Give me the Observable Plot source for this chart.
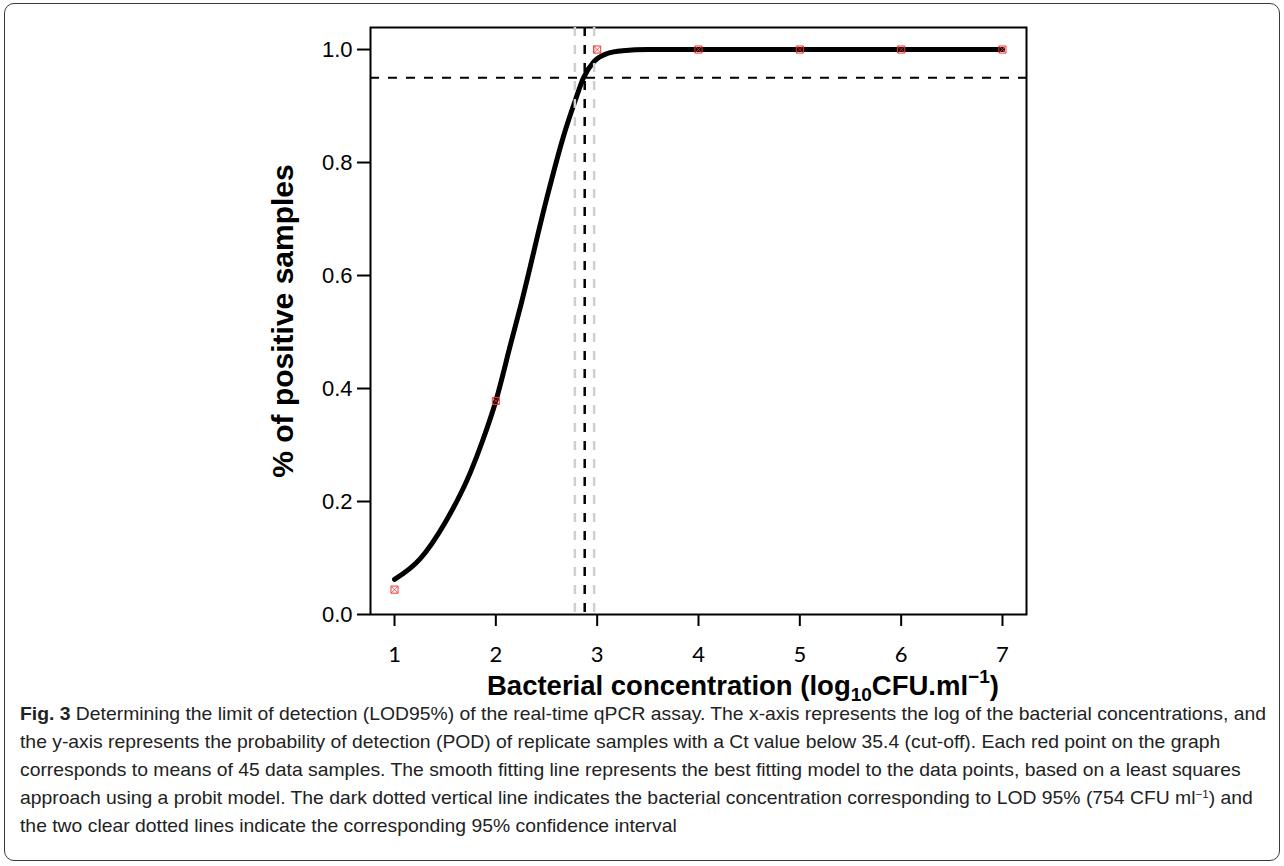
<!DOCTYPE html>
<html><head><meta charset="utf-8">
<script src="https://cdn.jsdelivr.net/npm/d3@7"></script>
<script src="https://cdn.jsdelivr.net/npm/@observablehq/plot@0.6"></script>
<style>
body{margin:0;background:#fff;width:1284px;height:866px;position:relative;overflow:hidden;font-family:"Liberation Sans",Arial,sans-serif}
#border{position:absolute;left:4px;top:3px;width:1276px;height:858px;border:1.4px solid #3a3a3a;border-radius:10px;box-sizing:border-box}
#chart{position:absolute;left:0;top:0}
#caption{position:absolute;left:20px;top:700px;font-family:"Liberation Sans",Arial,sans-serif;font-size:18.5px;line-height:28px;color:#222;white-space:nowrap}
#caption .ln{transform-origin:0 50%;width:max-content}
#caption b{font-weight:bold}
#caption sup{font-size:11px;line-height:0;vertical-align:6px}
</style></head>
<body>
<div id="border"></div>
<div id="chart"></div>
<div id="caption">
<div class="ln"><b>Fig. 3</b> Determining the limit of detection (LOD95%) of the real-time qPCR assay. The x-axis represents the log of the bacterial concentrations, and</div>
<div class="ln">the y-axis represents the probability of detection (POD) of replicate samples with a Ct value below 35.4 (cut-off). Each red point on the graph</div>
<div class="ln">corresponds to means of 45 data samples. The smooth fitting line represents the best fitting model to the data points, based on a least squares</div>
<div class="ln">approach using a probit model. The dark dotted vertical line indicates the bacterial concentration corresponding to LOD 95% (754 CFU ml<sup>−1</sup>) and</div>
<div class="ln">the two clear dotted lines indicate the corresponding 95% confidence interval</div>
</div>
<script>
// observed detection rates
const pointX = [1, 2, 3, 4, 5, 6, 7];
const pointY = [0.044, 0.378, 1.0, 1.0, 1.0, 1.0, 1.0];
// fitted probit curve
const fitX = [1.0, 1.25, 1.5, 1.75, 1.87, 2.0, 2.145, 2.25, 2.5, 2.67, 2.78, 2.865, 2.97, 3.1, 3.25, 3.5, 4, 5, 6, 7];
const fitY = [0.062, 0.098, 0.163, 0.252, 0.308, 0.378, 0.478, 0.55, 0.735, 0.848, 0.908, 0.95, 0.979, 0.993, 0.998, 1.0, 1.0, 1.0, 1.0, 1.0];
// LOD95 and its confidence interval (log10 CFU/ml)
const lodX = [2.877];
const ciX = [2.78, 2.97];
const cutoffY = [0.95];
const xTicks = [1, 2, 3, 4, 5, 6, 7];
const yTicks = [0, 0.2, 0.4, 0.6, 0.8, 1.0];
const yTitle = "% of positive samples";

const points = pointX.map((x, i) => ({x, y: pointY[i]}));
const fit = fitX.map((x, i) => ({x, y: fitY[i]}));

const W = 1284, H = 712;
const chart = Plot.plot({
  width: W, height: H,
  marginLeft: 370, marginRight: 258, marginTop: 27, marginBottom: 98,
  style: {background: "transparent", color: "#000"},
  x: {domain: [0.763, 7.237]},
  y: {domain: [0, 1.039]},
  marks: [
    Plot.frame({stroke: "#000", strokeWidth: 2}),
    Plot.axisX({ticks: xTicks, tickSize: 12, tickPadding: 20, strokeWidth: 2, fontSize: 22,
      fontFamily: "Lato,'Liberation Sans',sans-serif", label: null, tickFormat: d3.format("d")}),
    Plot.axisY({ticks: yTicks, tickSize: 13, tickPadding: 5, strokeWidth: 2, fontSize: 22,
      fontFamily: "'Liberation Sans',Arial,sans-serif", label: null, tickFormat: d3.format(".1f")}),
    Plot.line(fit, {x: "x", y: "y", stroke: "#000", strokeWidth: 5, curve: "monotone-x"}),
    Plot.ruleX(ciX, {stroke: "#cfcfcf", strokeWidth: 2.5, strokeDasharray: "9,9"}),
    Plot.ruleX(lodX, {stroke: "#000", strokeWidth: 2.5, strokeDasharray: "9,9"}),
    Plot.ruleY(cutoffY, {stroke: "#000", strokeWidth: 2, strokeDasharray: "9,9"}),
    Plot.dot(points, {x: "x", y: "y", symbol: "square", r: 4, stroke: "#ff3030", strokeWidth: 1, fill: "none"}),
    Plot.dot(points, {x: "x", y: "y", symbol: "times", r: 3, stroke: "#ff3030", strokeWidth: 0.8}),
    Plot.text([yTitle], {frameAnchor: "left", dx: -87, rotate: -90, textAnchor: "middle", fontSize: 30, fontWeight: "bold",
      fontFamily: "'Liberation Sans',Arial,sans-serif", fill: "#000"})
  ]
});
document.getElementById("chart").appendChild(chart);

// x-axis title with subscript / superscript
const t = d3.select(chart).append("text")
  .attr("x", 487).attr("y", 695).attr("text-anchor", "start")
  .attr("font-family", "'Liberation Sans',Arial,sans-serif").attr("font-weight", "bold")
  .attr("font-size", 27.5).attr("fill", "#000");
t.append("tspan").text("Bacterial concentration (log");
t.append("tspan").attr("font-size", 19).attr("dy", 6).text("10");
t.append("tspan").attr("dy", -6).text("CFU.ml");
t.append("tspan").attr("font-size", 19).attr("dy", -12).text("−1");
t.append("tspan").attr("dy", 12).text(")");

// condense caption so that its first line spans the same width as the reference (~1246px)
const lines = document.querySelectorAll("#caption .ln");
const w0 = lines[0].getBoundingClientRect().width;
const k = 1246 / w0;
lines.forEach(l => l.style.transform = `scaleX(${k})`);
</script>
</body></html>
